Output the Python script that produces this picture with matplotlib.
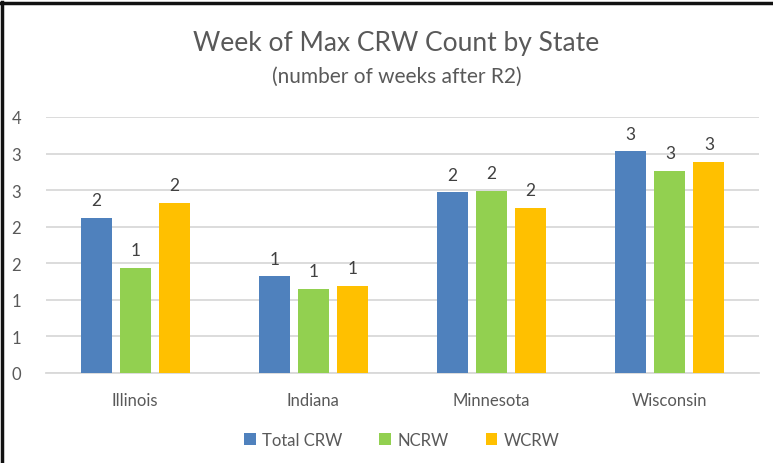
import math
import numpy as np
import matplotlib
matplotlib.use('Agg')
import matplotlib.pyplot as plt
from matplotlib.ticker import FuncFormatter

# data
states = ['Illinois', 'Indiana', 'Minnesota', 'Wisconsin']
total_crw = [2.12, 1.32, 2.47, 3.03]
ncrw = [1.44, 1.15, 2.49, 2.76]
wcrw = [2.33, 1.19, 2.26, 2.89]

series = [('Total CRW', total_crw, '#4f81bd'),
          ('NCRW', ncrw, '#92d050'),
          ('WCRW', wcrw, '#ffc000')]

plt.rcParams['font.family'] = ['Lato', 'DejaVu Sans']
text_color = '#595959'

fig = plt.figure(figsize=(7.73, 4.64), dpi=100)
ax = fig.add_axes([46 / 773, 1 - 374 / 464, (759 - 46) / 773, (374 - 118) / 464])

x = np.arange(len(states))
width = 0.174
step = 0.219
for i, (name, vals, color) in enumerate(series):
    pos = x + (i - 1) * step
    bars = ax.bar(pos, vals, width, color=color, label=name, zorder=3)
    for b, v in zip(bars, vals):
        ax.annotate(f'{math.floor(v + 0.5)}', (b.get_x() + b.get_width() / 2, v),
                    xytext=(0, 7), textcoords='offset points', ha='center', va='bottom',
                    fontsize=12.5, color='#404040')

ax.set_xlim(-0.5, len(states) - 0.5)
ax.set_ylim(0, 3.5)
ax.set_yticks(np.arange(0, 3.51, 0.5))
ax.yaxis.set_major_formatter(FuncFormatter(lambda v, p: f'{math.floor(v + 0.5 + 1e-9)}'))
ax.set_xticks(x)
ax.set_xticklabels(states)
ax.tick_params(axis='both', length=0, labelsize=12, colors=text_color)
ax.tick_params(axis='x', pad=14)
ax.tick_params(axis='y', pad=18)
ax.grid(axis='y', color='#d9d9d9', linewidth=1.3, zorder=0)
for s in ['top', 'right', 'left']:
    ax.spines[s].set_visible(False)
ax.spines['bottom'].set_color('#d9d9d9')
ax.spines['bottom'].set_linewidth(1.3)

fig.text(0.513, 1 - 43 / 464, 'Week of Max CRW Count by State', ha='center', va='center',
         fontsize=19, color=text_color)
fig.text(0.513, 1 - 77 / 464, '(number of weeks after R2)', ha='center', va='center',
         fontsize=15, color=text_color)

fig.legend(loc='center', bbox_to_anchor=(0.52, 1 - 441 / 464), ncol=3, frameon=False,
           fontsize=12, handlelength=0.7, handleheight=0.7, columnspacing=2.2,
           handletextpad=0.4, labelcolor=text_color)

# thin dark frame on the top and left edges, like the screenshot
fig.add_artist(plt.Line2D([2 / 773, 2 / 773], [0, 1 - 3 / 464], transform=fig.transFigure,
                          color='#111111', linewidth=2.5))
fig.add_artist(plt.Line2D([0, 1], [1 - 4 / 464, 1 - 4 / 464], transform=fig.transFigure,
                          color='#111111', linewidth=2.5))

fig.savefig('out.png', dpi=100)
